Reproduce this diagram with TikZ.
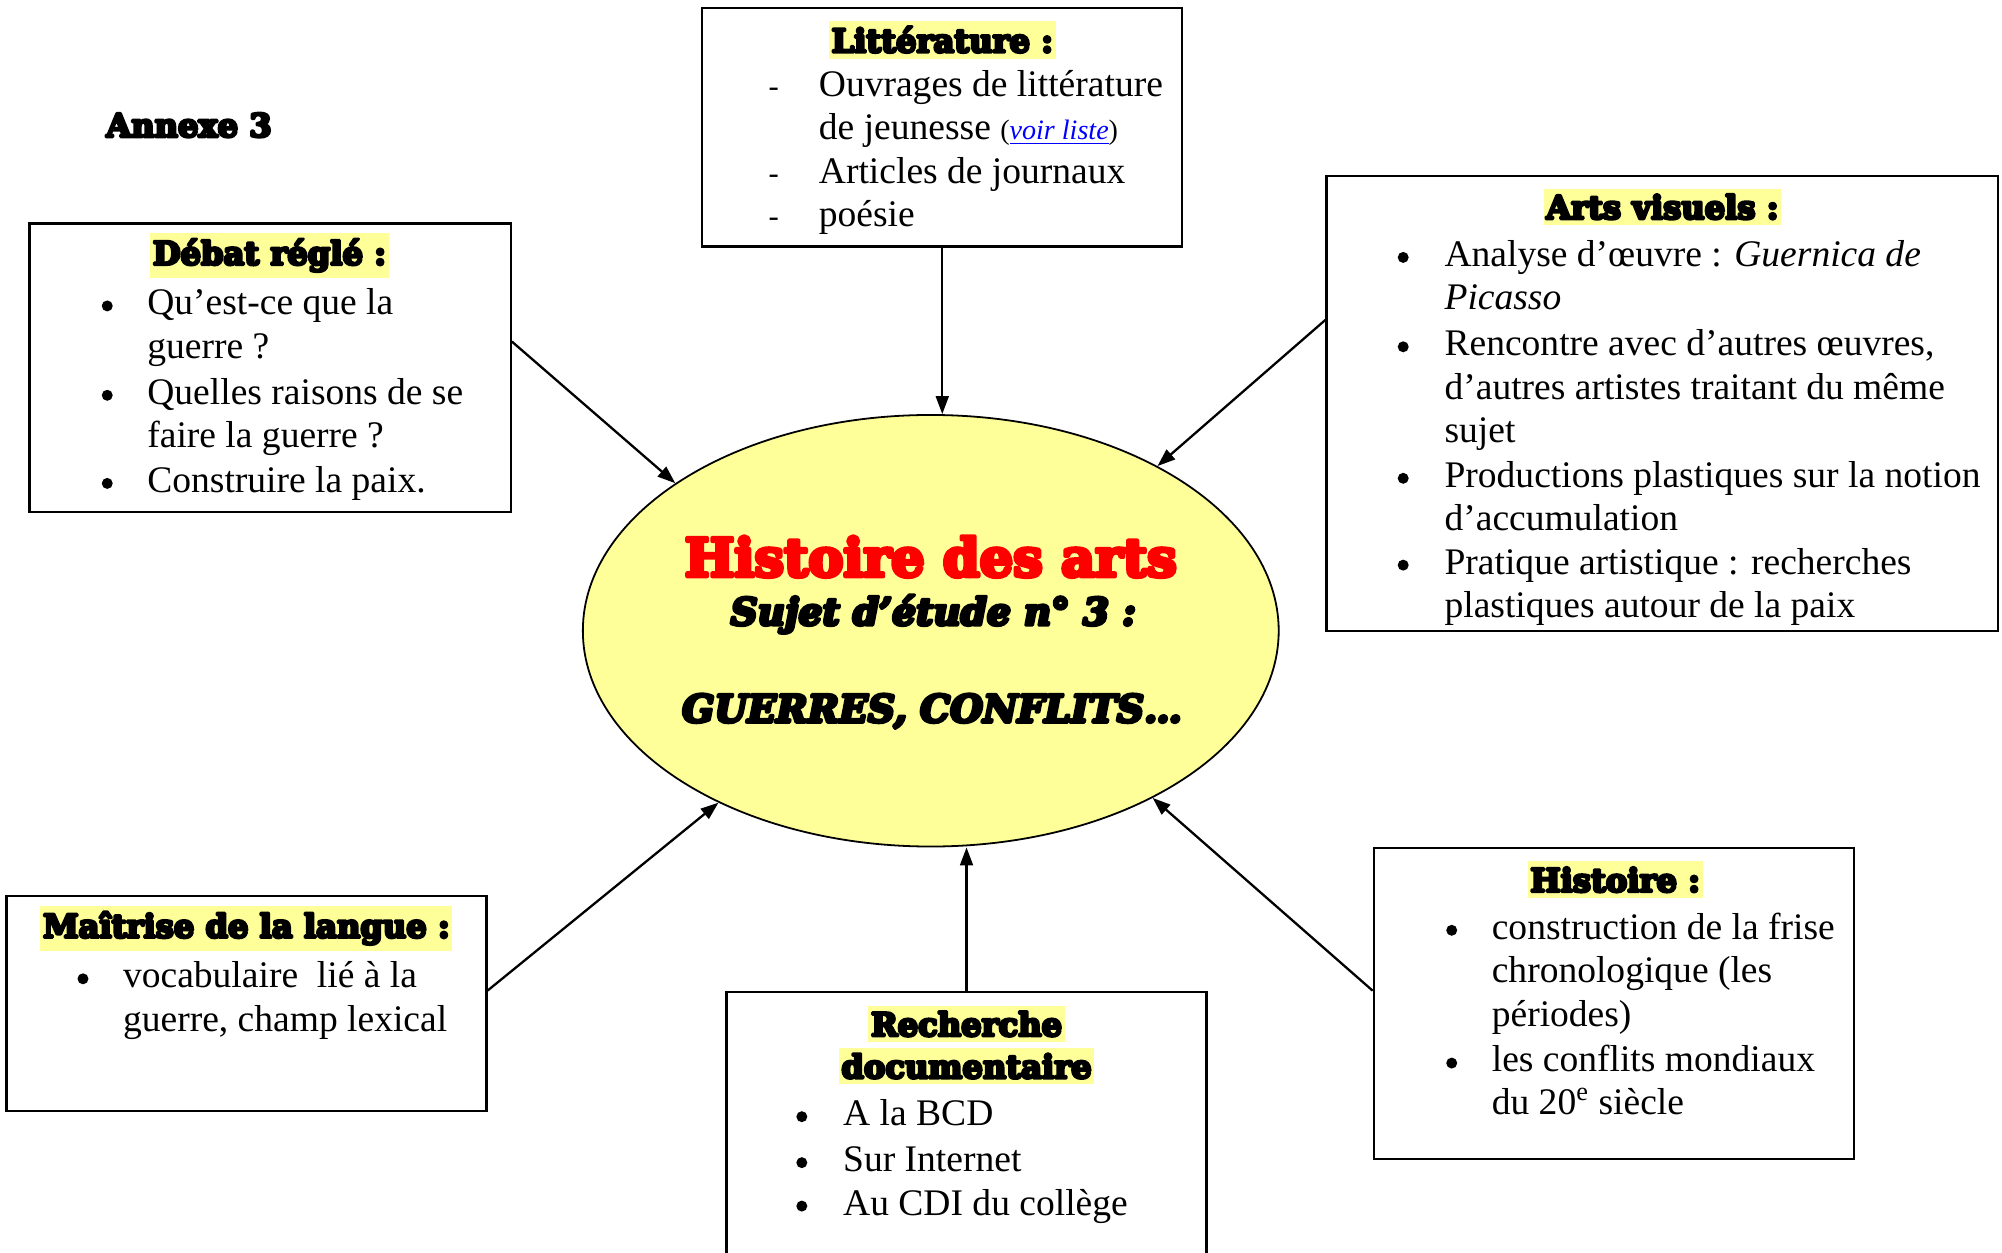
\documentclass[tikz,border=0pt]{standalone}
\usepackage{fontspec}
\setmainfont{Liberation Serif}
\newfontfamily\heavy{DejaVu Serif}
\newcommand\fatstart[1]{\special{pdf:code #1 w 1 j 2 Tr}}
\newcommand\fatend{\special{pdf:code 0 Tr}}
\usetikzlibrary{arrows.meta,calc,shapes.geometric,fit}
\definecolor{hl}{HTML}{FFFF99}
\definecolor{ellfill}{HTML}{FFFF99}
\definecolor{titred}{HTML}{FF0000}
\definecolor{linkblue}{HTML}{0000FF}
\tikzset{
  box/.style={draw, line width=0.9pt, inner sep=0pt},
  fat/.style={execute at begin node={\fatstart{#1}}, execute at end node={\fatend}},
  head/.style={fill=hl, inner xsep=1pt, inner ysep=2.3pt, anchor=center, fat=1.1, font=\heavy\bfseries\fontsize{12.6}{15}\selectfont},
  txt/.style={anchor=mid west, inner sep=0pt, yshift=-3pt, font=\fontsize{14.7}{17}\selectfont},
  bul/.style={circle, fill=black, inner sep=0pt, minimum size=4.3pt, yshift=-1.8pt},
  dashmark/.style={anchor=mid, inner sep=0pt, yshift=-3pt, font=\fontsize{12}{14}\selectfont},
  arr/.style={line width=0.9pt, -{Triangle[length=7pt,width=5pt]}},
  big/.style={anchor=center, inner sep=0pt},
}
\begin{document}
\begin{tikzpicture}[x=0.5pt,y=-0.5pt]
\useasboundingbox (0,0) rectangle (1568,981);
% Annexe
\node[big, fat=1.1, font=\heavy\bfseries\fontsize{12.6}{15}\selectfont] (annexe) at (148,98) {Annexe 3};
% Littérature box
\node[box, fit={(550,6) (926,193)}] (lit) {};
\node[head] (lith) at (738,31) {Littérature :};
\node[dashmark] (litb1) at (606,65) {-};
\node[txt] (lit1) at (641,65) {Ouvrages de littérature};
\node[txt] (lit2) at (641,99) {de jeunesse {\fontsize{11}{13}\selectfont(\textcolor{linkblue}{\textit{\underline{voir liste}}})}};
\node[dashmark] (litb2) at (606,133) {-};
\node[txt] (lit3) at (641,133) {Articles de journaux};
\node[dashmark] (litb3) at (606,167) {-};
\node[txt] (lit4) at (641,167) {poésie};
% Débat box
\node[box, fit={(23,175) (400,401)}] (deb) {};
\node[head] (debh) at (211,200) {Débat réglé :};
\node[bul] (debb1) at (84,236) {};
\node[txt] (deb1) at (115,236) {Qu’est-ce que la};
\node[txt] (deb2) at (115,270) {guerre ?};
\node[bul] (debb2) at (84,306) {};
\node[txt] (deb3) at (115,306) {Quelles raisons de se};
\node[txt] (deb4) at (115,340) {faire la guerre ?};
\node[bul] (debb3) at (84,375) {};
\node[txt] (deb5) at (115,375) {Construire la paix.};
% Arts visuels box
\node[box, fit={(1039,138) (1565,494)}] (art) {};
\node[head] (arth) at (1302,162) {Arts visuels :};
\node[bul] (artb1) at (1099,198) {};
\node[txt] (art1) at (1131,198) {Analyse d’œuvre : \textit{Guernica de}};
\node[txt] (art2) at (1131,232) {\textit{Picasso}};
\node[bul] (artb2) at (1099,268) {};
\node[txt] (art3) at (1131,268) {Rencontre avec d’autres œuvres,};
\node[txt] (art4) at (1131,302) {d’autres artistes traitant du même};
\node[txt] (art5) at (1131,336) {sujet};
\node[bul] (artb3) at (1099,371) {};
\node[txt] (art6) at (1131,371) {Productions plastiques sur la notion};
\node[txt] (art7) at (1131,405) {d’accumulation};
\node[bul] (artb4) at (1099,439) {};
\node[txt] (art8) at (1131,439) {Pratique artistique : recherches};
\node[txt] (art9) at (1131,473) {plastiques autour de la paix};
% Ellipse
\node[ellipse, draw, line width=0.7pt, fill=ellfill, minimum width=272.5pt, minimum height=169pt, inner sep=0pt] (ell) at (729,494) {};
\node[big, fat=1.6, text=titred, font=\heavy\bfseries\fontsize{20.6}{24}\selectfont] (t1) at (729,436) {Histoire des arts};
\node[big, fat=1.3, font=\heavy\bfseries\itshape\fontsize{14.7}{18}\selectfont] (t2) at (731,481) {Sujet d’étude n° 3 :};
\node[big, fat=1.3, font=\heavy\bfseries\itshape\fontsize{14.8}{18}\selectfont] (t3) at (730,557) {GUERRES, CONFLITS…};
% Maîtrise box
\node[box, fit={(5,702) (381,870)}] (mai) {};
\node[head] (maih) at (193,727) {Maîtrise de la langue :};
\node[bul] (maib1) at (65,763) {};
\node[txt] (mai1) at (96,763) {vocabulaire\ \ lié à la};
\node[txt] (mai2) at (96,797) {guerre, champ lexical};
% Recherche box
\node[box, fit={(569,777) (945,995)}] (rec) {};
\node[head] (rech1) at (757,802) {Recherche};
\node[head] (rech2) at (757,835) {documentaire};
\node[bul] (recb1) at (628,871) {};
\node[txt] (rec1) at (660,871) {A la BCD};
\node[bul] (recb2) at (628,907) {};
\node[txt] (rec2) at (660,907) {Sur Internet};
\node[bul] (recb3) at (628,941) {};
\node[txt] (rec3) at (660,941) {Au CDI du collège};
% Histoire box
\node[box, fit={(1076,664) (1452,908)}] (his) {};
\node[head] (hish) at (1265,689) {Histoire :};
\node[bul] (hisb1) at (1137,725) {};
\node[txt] (his1) at (1168,725) {construction de la frise};
\node[txt] (his2) at (1168,759) {chronologique (les};
\node[txt] (his3) at (1168,793) {périodes)};
\node[bul] (hisb2) at (1137,829) {};
\node[txt] (his4) at (1168,829) {les conflits mondiaux};
\node[txt] (his5) at (1168,862) {du 20\textsuperscript{e} siècle};
% Connectors
\draw[arr] (lit.south) -- (lit.south |- ell.north);
\draw[arr] ($(deb.north east)!0.41!(deb.south east)$) -- (ell.150);
\draw[arr] ($(art.north west)!0.317!(art.south west)$) -- (ell.36.4);
\draw[arr] ($(mai.north east)!0.44!(mai.south east)$) -- (ell.219.6);
\draw[arr] (rec.north) -- (rec.north |- ell.south);
\draw[arr] ($(his.north west)!0.459!(his.south west)$) -- (ell.323.2);
\end{tikzpicture}
\end{document}
